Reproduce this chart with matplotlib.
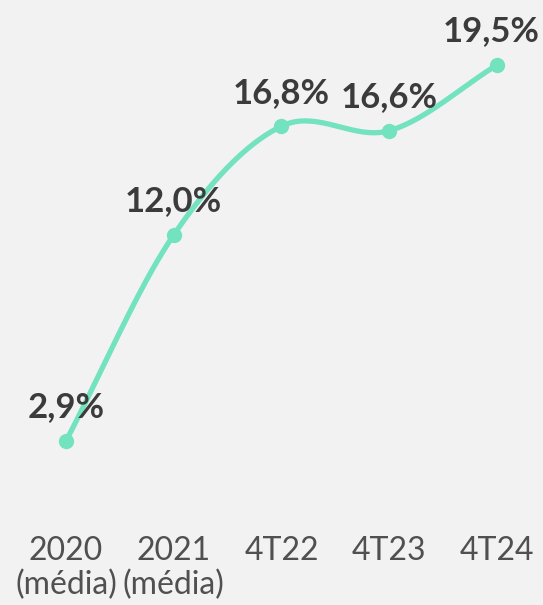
import numpy as np
import matplotlib
matplotlib.use("Agg")
import matplotlib.pyplot as plt

categories = ["2020\n(média)", "2021\n(média)", "4T22", "4T23", "4T24"]
values = [2.9, 12.0, 16.8, 16.6, 19.5]
value_labels = ["2,9%", "12,0%", "16,8%", "16,6%", "19,5%"]

BG = "#f2f2f2"
LINE = "#72e2bf"
TXT = "#3b3b3b"
XTXT = "#505050"


def catmull_rom(x, y, n=40):
    x = np.asarray(x, float)
    y = np.asarray(y, float)
    px = np.concatenate([[2 * x[0] - x[1]], x, [2 * x[-1] - x[-2]]])
    py = np.concatenate([[2 * y[0] - y[1]], y, [2 * y[-1] - y[-2]]])
    xs, ys = [], []
    for i in range(1, len(px) - 2):
        t = np.linspace(0, 1, n)
        for arr, out in ((px, xs), (py, ys)):
            p0, p1, p2, p3 = arr[i - 1], arr[i], arr[i + 1], arr[i + 2]
            out.append(0.5 * ((2 * p1) + (-p0 + p2) * t
                              + (2 * p0 - 5 * p1 + 4 * p2 - p3) * t ** 2
                              + (-p0 + 3 * p1 - 3 * p2 + p3) * t ** 3))
    return np.concatenate(xs), np.concatenate(ys)


fig = plt.figure(figsize=(5.43, 6.05), dpi=100, facecolor=BG)
ax = fig.add_axes([0, 0, 1, 1])
ax.set_facecolor(BG)
ax.axis("off")
ax.set_xlim(-0.6125, 4.427)
ax.set_ylim(-4.34, 22.37)

x = np.arange(len(values))
sx, sy = catmull_rom(x, values)
ax.plot(sx, sy, color=LINE, lw=3.8, solid_capstyle="round", zorder=2)
ax.plot(x, values, "o", color=LINE, ms=10, zorder=3)

offsets = [0, 0, 0, 0, -0.05]
for xi, v, lab, off in zip(x, values, value_labels, offsets):
    ax.annotate(lab, (xi + off, v), xytext=(0, 17), textcoords="offset points",
                ha="center", va="baseline", fontsize=25, fontweight="bold",
                color=TXT, family="Lato")

for xi, c in zip(x, categories):
    ax.text(xi, -1.3, c, ha="center", va="top", fontsize=23,
            color=XTXT, family="Lato", linespacing=1.15)

fig.savefig("out.png", dpi=100, facecolor=BG)
